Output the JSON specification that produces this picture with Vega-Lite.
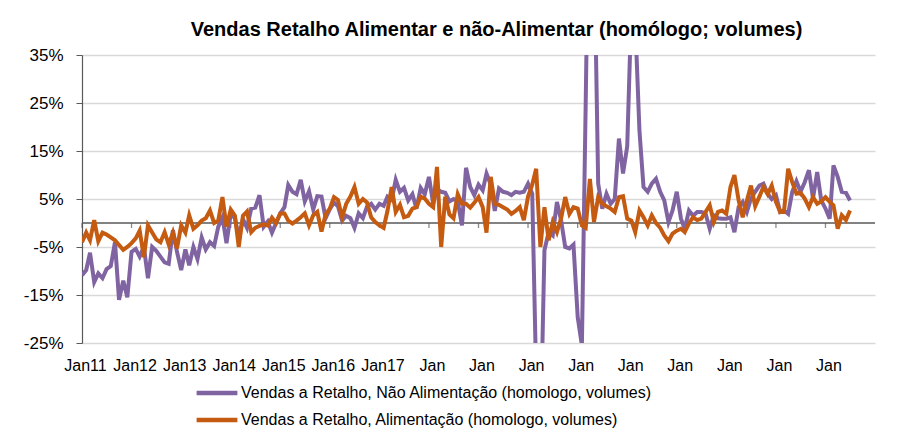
{
  "$schema": "https://vega.github.io/schema/vega-lite/v6.json",
  "description": "Vendas a retalho, alimentar e não-alimentar, variação homóloga em volume.",
  "width": 793,
  "height": 288,
  "autosize": "none",
  "padding": {"left": 82, "top": 55, "right": 33, "bottom": 101},
  "background": "white",
  "title": {
    "text": "Vendas Retalho Alimentar e não-Alimentar (homólogo; volumes)",
    "font": "Liberation Sans, Arial, sans-serif",
    "fontSize": 20,
    "fontWeight": "bold",
    "color": "black",
    "anchor": "middle",
    "dx": 18,
    "offset": 6
  },
  "data": {
    "format": {"parse": {"mes": "date:'%Y-%m'"}},
    "values": [
      {"mes": "2011-01", "nao_alim": -10.9, "alim": -4.0},
      {"mes": "2011-02", "nao_alim": -9.8, "alim": -2.0},
      {"mes": "2011-03", "nao_alim": -6.2, "alim": -3.6},
      {"mes": "2011-04", "nao_alim": -12.3, "alim": 0.6},
      {"mes": "2011-05", "nao_alim": -10.5, "alim": -3.8},
      {"mes": "2011-06", "nao_alim": -11.5, "alim": -2.0},
      {"mes": "2011-07", "nao_alim": -9.6, "alim": -2.4},
      {"mes": "2011-08", "nao_alim": -9.0, "alim": -3.0},
      {"mes": "2011-09", "nao_alim": -4.0, "alim": -3.6},
      {"mes": "2011-10", "nao_alim": -16.0, "alim": -4.6},
      {"mes": "2011-11", "nao_alim": -12.0, "alim": -5.6},
      {"mes": "2011-12", "nao_alim": -15.5, "alim": -5.0},
      {"mes": "2012-01", "nao_alim": -6.0, "alim": -4.2},
      {"mes": "2012-02", "nao_alim": -5.4, "alim": -3.2},
      {"mes": "2012-03", "nao_alim": -7.0, "alim": -1.6},
      {"mes": "2012-04", "nao_alim": -5.0, "alim": -7.1},
      {"mes": "2012-05", "nao_alim": -11.5, "alim": -0.5},
      {"mes": "2012-06", "nao_alim": -5.0, "alim": -2.0},
      {"mes": "2012-07", "nao_alim": -5.8, "alim": -3.4},
      {"mes": "2012-08", "nao_alim": -7.0, "alim": -4.0},
      {"mes": "2012-09", "nao_alim": -8.2, "alim": -1.9},
      {"mes": "2012-10", "nao_alim": -8.5, "alim": -4.5},
      {"mes": "2012-11", "nao_alim": -1.5, "alim": -2.0},
      {"mes": "2012-12", "nao_alim": -6.0, "alim": -5.3},
      {"mes": "2013-01", "nao_alim": -9.8, "alim": -0.5},
      {"mes": "2013-02", "nao_alim": -5.5, "alim": -2.0},
      {"mes": "2013-03", "nao_alim": -8.8, "alim": 1.6},
      {"mes": "2013-04", "nao_alim": -5.0, "alim": -1.2},
      {"mes": "2013-05", "nao_alim": -7.5, "alim": -0.5},
      {"mes": "2013-06", "nao_alim": -3.0, "alim": 0.5},
      {"mes": "2013-07", "nao_alim": -5.5, "alim": 1.0},
      {"mes": "2013-08", "nao_alim": -4.0, "alim": 2.6},
      {"mes": "2013-09", "nao_alim": -4.8, "alim": 0.0},
      {"mes": "2013-10", "nao_alim": -0.8, "alim": 0.5},
      {"mes": "2013-11", "nao_alim": 1.2, "alim": 5.4},
      {"mes": "2013-12", "nao_alim": -4.2, "alim": -0.8},
      {"mes": "2014-01", "nao_alim": 1.9, "alim": 2.8},
      {"mes": "2014-02", "nao_alim": 1.0, "alim": 1.5},
      {"mes": "2014-03", "nao_alim": -3.0, "alim": -5.0},
      {"mes": "2014-04", "nao_alim": 0.8, "alim": 1.5},
      {"mes": "2014-05", "nao_alim": -1.0, "alim": 2.4},
      {"mes": "2014-06", "nao_alim": 3.0, "alim": -1.9},
      {"mes": "2014-07", "nao_alim": 3.2, "alim": -1.0},
      {"mes": "2014-08", "nao_alim": 5.8, "alim": -0.6},
      {"mes": "2014-09", "nao_alim": -0.8, "alim": -0.3},
      {"mes": "2014-10", "nao_alim": 0.3, "alim": -0.5},
      {"mes": "2014-11", "nao_alim": -2.0, "alim": 1.1},
      {"mes": "2014-12", "nao_alim": 0.0, "alim": 0.0},
      {"mes": "2015-01", "nao_alim": 2.0, "alim": 2.0},
      {"mes": "2015-02", "nao_alim": 3.3, "alim": 2.0},
      {"mes": "2015-03", "nao_alim": 7.9, "alim": 0.5},
      {"mes": "2015-04", "nao_alim": 6.5, "alim": -0.1},
      {"mes": "2015-05", "nao_alim": 6.0, "alim": 0.5},
      {"mes": "2015-06", "nao_alim": 9.0, "alim": 1.2},
      {"mes": "2015-07", "nao_alim": 4.5, "alim": 2.0},
      {"mes": "2015-08", "nao_alim": 6.6, "alim": -0.5},
      {"mes": "2015-09", "nao_alim": 2.8, "alim": 1.6},
      {"mes": "2015-10", "nao_alim": 5.6, "alim": 2.3},
      {"mes": "2015-11", "nao_alim": 5.5, "alim": -1.8},
      {"mes": "2015-12", "nao_alim": 1.0, "alim": 1.8},
      {"mes": "2016-01", "nao_alim": 2.9, "alim": 3.0},
      {"mes": "2016-02", "nao_alim": 4.3, "alim": 5.4},
      {"mes": "2016-03", "nao_alim": 3.5, "alim": 4.8},
      {"mes": "2016-04", "nao_alim": 0.5, "alim": 1.2},
      {"mes": "2016-05", "nao_alim": 1.5, "alim": 4.0},
      {"mes": "2016-06", "nao_alim": 1.0, "alim": 5.5},
      {"mes": "2016-07", "nao_alim": -1.0, "alim": 7.5},
      {"mes": "2016-08", "nao_alim": 2.0, "alim": 4.0},
      {"mes": "2016-09", "nao_alim": 1.0, "alim": 5.0},
      {"mes": "2016-10", "nao_alim": 3.4, "alim": 4.3},
      {"mes": "2016-11", "nao_alim": 4.0, "alim": 1.2},
      {"mes": "2016-12", "nao_alim": 2.8, "alim": 0.2},
      {"mes": "2017-01", "nao_alim": 4.0, "alim": -0.5},
      {"mes": "2017-02", "nao_alim": 3.6, "alim": -1.0},
      {"mes": "2017-03", "nao_alim": 5.5, "alim": 2.5},
      {"mes": "2017-04", "nao_alim": 4.8, "alim": 7.5},
      {"mes": "2017-05", "nao_alim": 9.0, "alim": 2.3},
      {"mes": "2017-06", "nao_alim": 6.5, "alim": 3.8},
      {"mes": "2017-07", "nao_alim": 7.3, "alim": 1.2},
      {"mes": "2017-08", "nao_alim": 4.7, "alim": 1.5},
      {"mes": "2017-09", "nao_alim": 6.0, "alim": 3.0},
      {"mes": "2017-10", "nao_alim": 3.0, "alim": 3.3},
      {"mes": "2017-11", "nao_alim": 7.3, "alim": 5.5},
      {"mes": "2017-12", "nao_alim": 6.0, "alim": 5.1},
      {"mes": "2018-01", "nao_alim": 9.6, "alim": 4.0},
      {"mes": "2018-02", "nao_alim": 4.0, "alim": 3.3},
      {"mes": "2018-03", "nao_alim": 7.0, "alim": 11.7},
      {"mes": "2018-04", "nao_alim": 6.5, "alim": -5.0},
      {"mes": "2018-05", "nao_alim": 6.3, "alim": 5.5},
      {"mes": "2018-06", "nao_alim": 4.5, "alim": 1.8},
      {"mes": "2018-07", "nao_alim": 5.0, "alim": 1.0},
      {"mes": "2018-08", "nao_alim": 4.5, "alim": 6.0},
      {"mes": "2018-09", "nao_alim": -0.5, "alim": 4.0},
      {"mes": "2018-10", "nao_alim": 11.5, "alim": 4.0},
      {"mes": "2018-11", "nao_alim": 7.5, "alim": 3.2},
      {"mes": "2018-12", "nao_alim": 5.8, "alim": 4.2},
      {"mes": "2019-01", "nao_alim": 8.0, "alim": 5.4},
      {"mes": "2019-02", "nao_alim": 6.8, "alim": 3.3},
      {"mes": "2019-03", "nao_alim": 10.3, "alim": -2.0},
      {"mes": "2019-04", "nao_alim": 8.0, "alim": 9.6},
      {"mes": "2019-05", "nao_alim": 2.5, "alim": 4.0},
      {"mes": "2019-06", "nao_alim": 7.2, "alim": 3.8},
      {"mes": "2019-07", "nao_alim": 6.5, "alim": 3.3},
      {"mes": "2019-08", "nao_alim": 6.3, "alim": 2.8},
      {"mes": "2019-09", "nao_alim": 5.8, "alim": 1.9},
      {"mes": "2019-10", "nao_alim": 6.5, "alim": 2.5},
      {"mes": "2019-11", "nao_alim": 6.3, "alim": 3.3},
      {"mes": "2019-12", "nao_alim": 6.5, "alim": 0.6},
      {"mes": "2020-01", "nao_alim": 8.2, "alim": 5.5},
      {"mes": "2020-02", "nao_alim": 6.1, "alim": 8.0},
      {"mes": "2020-03", "nao_alim": -32.0, "alim": 11.3},
      {"mes": "2020-04", "nao_alim": -45.0, "alim": -5.0},
      {"mes": "2020-05", "nao_alim": -5.7, "alim": 3.3},
      {"mes": "2020-06", "nao_alim": -1.9, "alim": -3.6},
      {"mes": "2020-07", "nao_alim": -2.6, "alim": 0.2},
      {"mes": "2020-08", "nao_alim": 4.4, "alim": -1.9},
      {"mes": "2020-09", "nao_alim": 0.5, "alim": 1.0},
      {"mes": "2020-10", "nao_alim": -5.0, "alim": 5.4},
      {"mes": "2020-11", "nao_alim": -5.3, "alim": 1.9},
      {"mes": "2020-12", "nao_alim": -4.5, "alim": 3.3},
      {"mes": "2021-01", "nao_alim": -19.6, "alim": 3.0},
      {"mes": "2021-02", "nao_alim": -25.5, "alim": -0.5},
      {"mes": "2021-03", "nao_alim": 25.0, "alim": -1.0},
      {"mes": "2021-04", "nao_alim": 85.0, "alim": 9.2},
      {"mes": "2021-05", "nao_alim": 60.0, "alim": 0.2},
      {"mes": "2021-06", "nao_alim": 8.2, "alim": 5.4},
      {"mes": "2021-07", "nao_alim": 3.0, "alim": 4.0},
      {"mes": "2021-08", "nao_alim": 6.1, "alim": 3.5},
      {"mes": "2021-09", "nao_alim": 4.0, "alim": 3.0},
      {"mes": "2021-10", "nao_alim": 5.0, "alim": 2.3},
      {"mes": "2021-11", "nao_alim": 17.6, "alim": 5.4},
      {"mes": "2021-12", "nao_alim": 10.3, "alim": 5.6},
      {"mes": "2022-01", "nao_alim": 16.0, "alim": 0.9},
      {"mes": "2022-02", "nao_alim": 45.0, "alim": 0.5},
      {"mes": "2022-03", "nao_alim": 42.0, "alim": -1.9},
      {"mes": "2022-04", "nao_alim": 19.3, "alim": 2.6},
      {"mes": "2022-05", "nao_alim": 7.5, "alim": 1.2},
      {"mes": "2022-06", "nao_alim": 6.5, "alim": -0.5},
      {"mes": "2022-07", "nao_alim": 8.2, "alim": 1.6},
      {"mes": "2022-08", "nao_alim": 9.2, "alim": 0.0},
      {"mes": "2022-09", "nao_alim": 6.5, "alim": -1.0},
      {"mes": "2022-10", "nao_alim": 4.7, "alim": -2.6},
      {"mes": "2022-11", "nao_alim": 0.2, "alim": -3.8},
      {"mes": "2022-12", "nao_alim": 2.6, "alim": -2.2},
      {"mes": "2023-01", "nao_alim": 6.5, "alim": -1.6},
      {"mes": "2023-02", "nao_alim": 0.9, "alim": -1.2},
      {"mes": "2023-03", "nao_alim": -1.2, "alim": -1.9},
      {"mes": "2023-04", "nao_alim": 2.6, "alim": -0.1},
      {"mes": "2023-05", "nao_alim": 1.5, "alim": 1.2},
      {"mes": "2023-06", "nao_alim": 2.3, "alim": 0.6},
      {"mes": "2023-07", "nao_alim": 2.3, "alim": 0.9},
      {"mes": "2023-08", "nao_alim": 2.0, "alim": 2.3},
      {"mes": "2023-09", "nao_alim": -1.2, "alim": 3.7},
      {"mes": "2023-10", "nao_alim": 1.6, "alim": 0.2},
      {"mes": "2023-11", "nao_alim": 1.0, "alim": 2.3},
      {"mes": "2023-12", "nao_alim": 0.9, "alim": 2.6},
      {"mes": "2024-01", "nao_alim": 0.9, "alim": 1.9},
      {"mes": "2024-02", "nao_alim": 1.2, "alim": 7.5},
      {"mes": "2024-03", "nao_alim": -1.9, "alim": 10.0},
      {"mes": "2024-04", "nao_alim": 3.3, "alim": 4.7},
      {"mes": "2024-05", "nao_alim": 4.4, "alim": 1.2},
      {"mes": "2024-06", "nao_alim": 2.3, "alim": 4.7},
      {"mes": "2024-07", "nao_alim": 5.1, "alim": 7.8},
      {"mes": "2024-08", "nao_alim": 6.5, "alim": 3.5},
      {"mes": "2024-09", "nao_alim": 7.8, "alim": 5.5},
      {"mes": "2024-10", "nao_alim": 8.2, "alim": 7.5},
      {"mes": "2024-11", "nao_alim": 6.1, "alim": 6.0},
      {"mes": "2024-12", "nao_alim": 5.0, "alim": 7.8},
      {"mes": "2025-01", "nao_alim": 5.8, "alim": 4.4},
      {"mes": "2025-02", "nao_alim": 2.3, "alim": 2.3},
      {"mes": "2025-03", "nao_alim": 2.6, "alim": 2.3},
      {"mes": "2025-04", "nao_alim": 1.9, "alim": 11.3},
      {"mes": "2025-05", "nao_alim": 6.5, "alim": 8.5},
      {"mes": "2025-06", "nao_alim": 8.7, "alim": 6.1},
      {"mes": "2025-07", "nao_alim": 6.5, "alim": 6.3},
      {"mes": "2025-08", "nao_alim": 8.5, "alim": 5.1},
      {"mes": "2025-09", "nao_alim": 11.0, "alim": 3.3},
      {"mes": "2025-10", "nao_alim": 5.1, "alim": 5.4},
      {"mes": "2025-11", "nao_alim": 10.6, "alim": 4.0},
      {"mes": "2025-12", "nao_alim": 4.7, "alim": 4.5},
      {"mes": "2026-01", "nao_alim": 3.0, "alim": 5.4},
      {"mes": "2026-02", "nao_alim": 0.9, "alim": 4.4},
      {"mes": "2026-03", "nao_alim": 12.0, "alim": 3.7},
      {"mes": "2026-04", "nao_alim": 9.6, "alim": -1.2},
      {"mes": "2026-05", "nao_alim": 6.5, "alim": 1.6},
      {"mes": "2026-06", "nao_alim": 6.3, "alim": 0.6},
      {"mes": "2026-07", "nao_alim": 4.7, "alim": 2.6}
    ]
  },
  "layer": [
    {
      "data": {"values": [{"zero": 0}]},
      "mark": {"type": "rule", "color": "#595959", "strokeWidth": 1.5},
      "encoding": {
        "y": {
          "field": "zero",
          "type": "quantitative",
          "title": null,
          "scale": {"domain": [-25, 35], "nice": false, "zero": false},
          "axis": {"values": [-25, -15, -5, 5, 15, 25, 35], "labelExpr": "datum.value + '%'"}
        }
      }
    },
    {
      "transform": [{"filter": "month(datum.mes) == 0"}],
      "mark": {"type": "tick", "orient": "vertical", "size": 5, "thickness": 1.3, "color": "#595959", "yOffset": 2.5},
      "encoding": {
        "x": {
          "field": "mes",
          "type": "temporal",
          "title": null,
          "scale": {"domain": [{"year": 2011, "month": 1, "date": 1}, {"year": 2027, "month": 1, "date": 1}]},
          "axis": {
            "tickCount": {"interval": "year", "step": 1},
            "labelExpr": "year(datum.value) > 2026 ? '' : (year(datum.value) <= 2017 ? 'Jan' + timeFormat(datum.value, '%y') : 'Jan')"
          }
        },
        "y": {"datum": 0, "type": "quantitative"}
      }
    },
    {
      "mark": {"type": "line", "strokeWidth": 4, "clip": true},
      "encoding": {
        "x": {
          "field": "mes",
          "type": "temporal",
          "title": null,
          "scale": {"domain": [{"year": 2011, "month": 1, "date": 1}, {"year": 2027, "month": 1, "date": 1}]},
          "axis": {
            "tickCount": {"interval": "year", "step": 1},
            "labelExpr": "year(datum.value) > 2026 ? '' : (year(datum.value) <= 2017 ? 'Jan' + timeFormat(datum.value, '%y') : 'Jan')"
          }
        },
        "y": {
          "field": "nao_alim",
          "type": "quantitative",
          "title": null,
          "scale": {"domain": [-25, 35], "nice": false, "zero": false},
          "axis": {"values": [-25, -15, -5, 5, 15, 25, 35], "labelExpr": "datum.value + '%'"}
        },
        "color": {
          "datum": "Vendas a Retalho, Não Alimentação (homologo, volumes)",
          "scale": {
            "domain": [
              "Vendas a Retalho, Não Alimentação (homologo, volumes)",
              "Vendas a Retalho, Alimentação (homologo, volumes)"
            ],
            "range": ["#8064A2", "#C55A11"]
          },
          "legend": {"title": null}
        }
      }
    },
    {
      "mark": {"type": "line", "strokeWidth": 4, "clip": true},
      "encoding": {
        "x": {
          "field": "mes",
          "type": "temporal",
          "title": null,
          "scale": {"domain": [{"year": 2011, "month": 1, "date": 1}, {"year": 2027, "month": 1, "date": 1}]},
          "axis": {
            "tickCount": {"interval": "year", "step": 1},
            "labelExpr": "year(datum.value) > 2026 ? '' : (year(datum.value) <= 2017 ? 'Jan' + timeFormat(datum.value, '%y') : 'Jan')"
          }
        },
        "y": {
          "field": "alim",
          "type": "quantitative",
          "title": null,
          "scale": {"domain": [-25, 35], "nice": false, "zero": false},
          "axis": {"values": [-25, -15, -5, 5, 15, 25, 35], "labelExpr": "datum.value + '%'"}
        },
        "color": {
          "datum": "Vendas a Retalho, Alimentação (homologo, volumes)",
          "legend": {"title": null}
        }
      }
    }
  ],
  "config": {
    "view": {"stroke": null},
    "font": "Liberation Sans, Arial, sans-serif",
    "axisX": {
      "domain": false,
      "ticks": false,
      "grid": false,
      "labelFontSize": 16,
      "labelColor": "black",
      "labelPadding": 14,
      "labelOffset": 3,
      "labelOverlap": false,
      "labelBound": false,
      "labelFlush": false,
      "labelAlign": "center"
    },
    "axisY": {
      "grid": true,
      "gridColor": "#d9d9d9",
      "gridWidth": 1.5,
      "domain": true,
      "domainColor": "#595959",
      "domainWidth": 1.2,
      "tickColor": "#595959",
      "tickSize": 6,
      "labelPadding": 13,
      "labelFontSize": 17,
      "labelColor": "black"
    },
    "legend": {
      "orient": "none",
      "legendX": 124,
      "legendY": 327,
      "direction": "vertical",
      "symbolType": "M-2.4,0H2.4",
      "symbolSize": 289,
      "symbolStrokeWidth": 4.5,
      "labelFontSize": 16,
      "labelColor": "black",
      "labelLimit": 800,
      "labelOffset": 13,
      "rowPadding": 7,
      "padding": 0
    }
  }
}
